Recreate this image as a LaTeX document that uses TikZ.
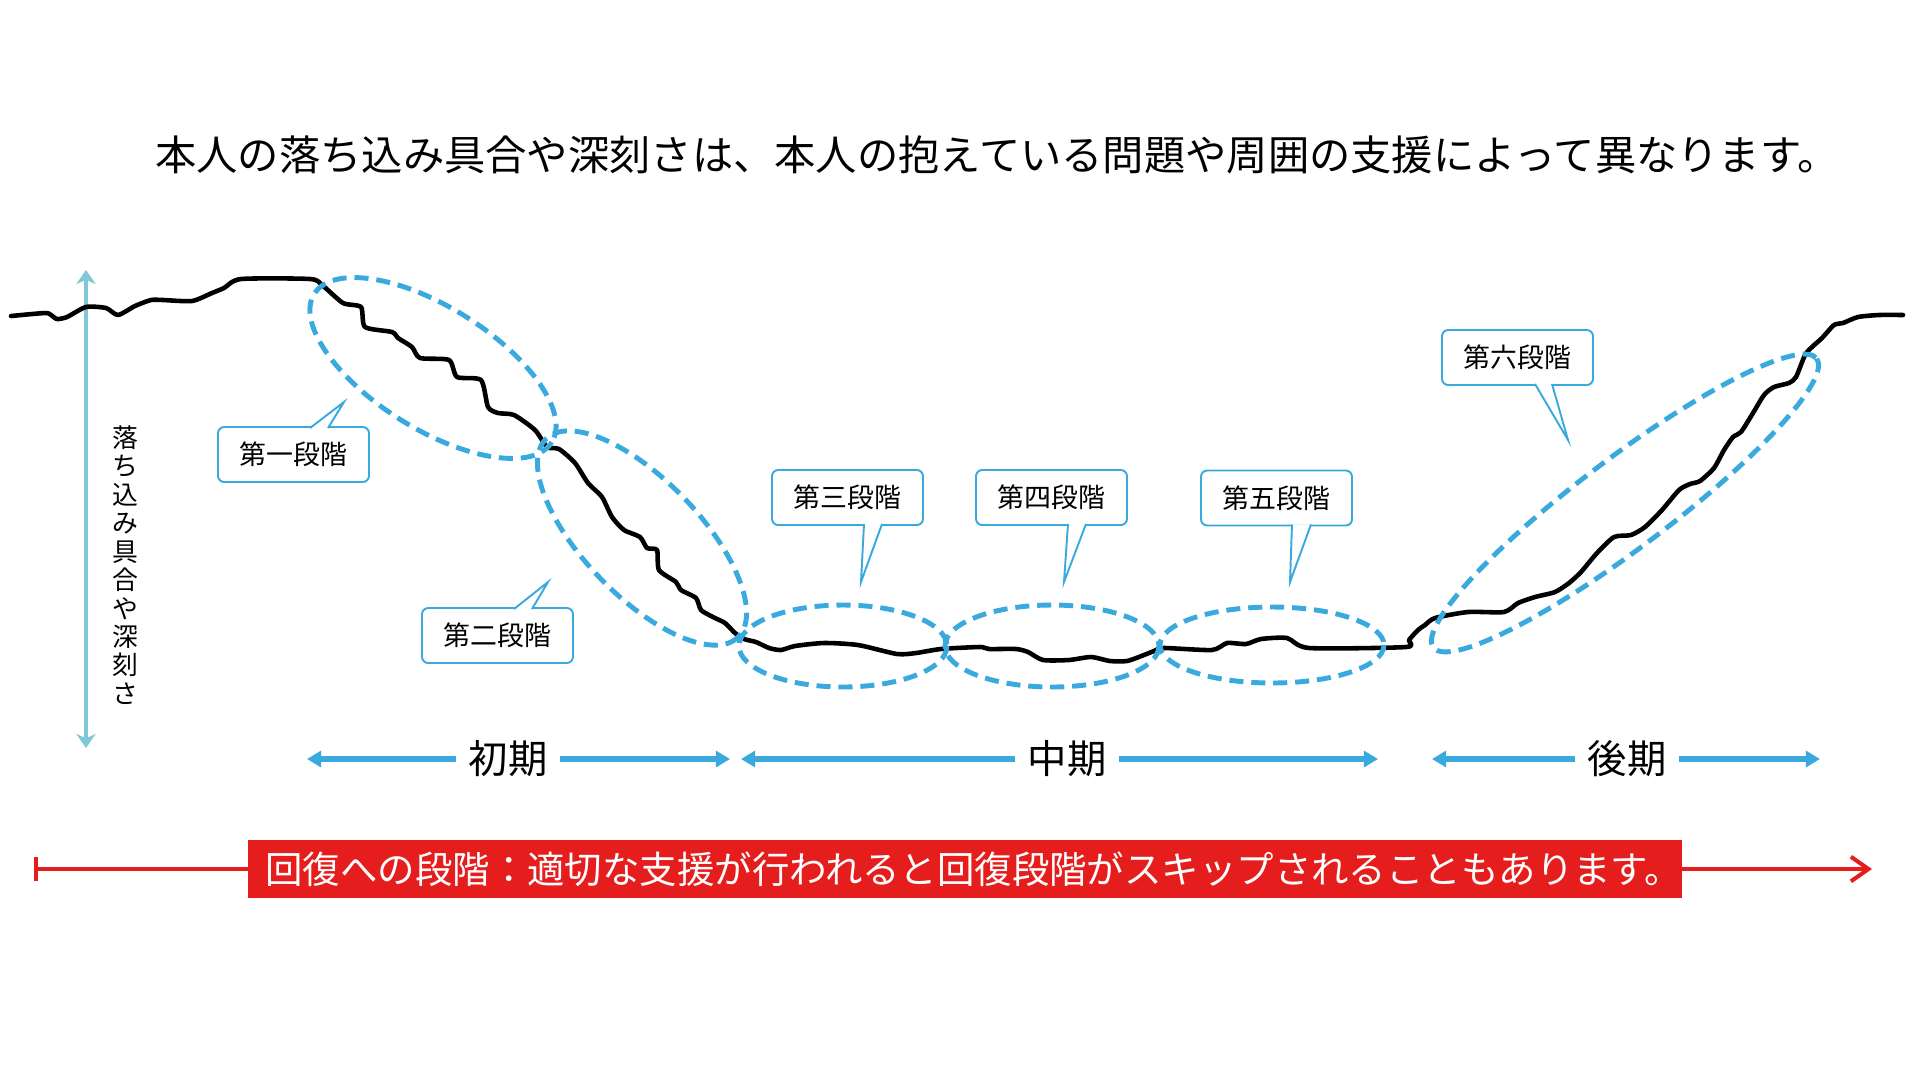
\documentclass[tikz,border=0pt]{standalone}
\usepackage{fontspec}
\newfontfamily\jpfont{Noto Sans CJK JP}
\usetikzlibrary{arrows.meta,positioning}
\definecolor{ringblue}{RGB}{58,169,222}
\definecolor{axisteal}{RGB}{126,200,216}
\definecolor{recred}{RGB}{230,29,29}
\tikzset{
  ring/.style={draw=ringblue, line width=2.8pt, dash pattern=on 8pt off 4.5pt},
  stagebox/.style={draw=ringblue, line width=1.1pt, fill=white, rounded corners=3.5pt,
    minimum width=3.02cm, minimum height=1.1cm, inner sep=0pt, font=\jpfont\fontsize{15.3}{18}\selectfont},
  stagetail/.style={draw=ringblue, line width=1.1pt, fill=white, line join=miter},
  period/.style={inner xsep=7pt, font=\jpfont\fontsize{22.4}{26}\selectfont},
  periodarrow/.style={draw=ringblue, line width=3.4pt, -{Triangle[length=8pt,width=9pt]}},
}

\begin{document}
\begin{tikzpicture}[x=0.02cm, y=-0.02cm, font=\jpfont]
  \useasboundingbox (0,0) rectangle (1920,1080);

  \node (title) at (997,155) [font=\jpfont\fontsize{23.5}{28}\selectfont]{本人の落ち込み具合や深刻さは、本人の抱えている問題や周囲の支援によって異なります。};

  % depth axis
  \coordinate (axis-top) at (86,270);
  \coordinate (axis-bot) at (86,748);
  \draw[axisteal, line width=2.3pt, {Stealth[length=8pt,width=11pt,inset=2.5pt]}-{Stealth[length=8pt,width=11pt,inset=2.5pt]}] (axis-top) -- (axis-bot);
  \node (depth) at (125,565) [align=center, inner sep=0pt, font=\jpfont\fontsize{14.7}{16.2}\selectfont]{落\\ち\\込\\み\\具\\合\\や\\深\\刻\\さ};

  % recovery curve
  \draw[line width=2.6pt, line cap=round, line join=round] plot[smooth, tension=0.4] coordinates {
    (11,316) (45,313) (51,315) (57,319) (67,317) (86,307) (106,308) (118,315) (135,306) (151,300)
    (163,300) (192,301) (212,293) (224,288) (241,279) (310,279) (322,285) (343,303) (361,307) (365,327)
    (392,332) (398,338) (412,347) (420,358) (449,360) (457,377) (481,380) (488,407) (498,413) (514,415)
    (535,430) (547,447) (559,449) (575,463) (588,483) (602,497) (612,517) (624,530) (640,537) (647,548)
    (657,550) (659,570) (676,582) (681,590) (696,598) (701,610) (713,617) (725,623) (735,633) (744,639)
    (756,642) (769,648) (781,650) (795,646) (824,643) (858,645) (897,654) (916,653) (941,649) (980,647)
    (989,649) (1016,649) (1028,652) (1043,660) (1069,660) (1091,657) (1110,661) (1127,661) (1144,655)
    (1154,651) (1164,648) (1212,650) (1227,643) (1246,644) (1261,639) (1287,638) (1309,648) (1406,647)
    (1409,640) (1418,630) (1425,625) (1435,618) (1468,612) (1504,612) (1518,603) (1535,597) (1555,592)
    (1569,583) (1581,572) (1597,553) (1614,537) (1631,535) (1645,527) (1662,510) (1679,490) (1690,484)
    (1700,481) (1714,468) (1724,450) (1733,437) (1741,432) (1753,413) (1764,395) (1774,387) (1789,383)
    (1796,377) (1805,355) (1812,347) (1822,338) (1834,325) (1843,323) (1858,317) (1879,315) (1903,315)};

  % stage rings
  \draw[ring, rotate around={-32:(433,368)}] (433,368) ellipse [x radius=140, y radius=61]; % 第一
  \draw[ring, rotate around={-46:(642,538)}] (642,538) ellipse [x radius=138, y radius=58]; % 第二
  \draw[ring] (843,646) ellipse [x radius=104, y radius=41]; % 第三
  \draw[ring] (1052,646) ellipse [x radius=107, y radius=41]; % 第四
  \draw[ring] (1272,645) ellipse [x radius=112, y radius=38]; % 第五
  \draw[ring, rotate around={37:(1625,503)}] (1625,503) ellipse [x radius=240, y radius=45]; % 第六

  % stage callouts
  \node (stage1) at (293.5,454.5) [stagebox]{第一段階};
  \coordinate (tip1) at (344,402);
  \draw[stagetail] ([shift={(16.5,2)}]stage1.north) -- (tip1) -- ([shift={(34.5,2)}]stage1.north);
  \node (stage2) at (497.5,635.5) [stagebox]{第二段階};
  \coordinate (tip2) at (548,582);
  \draw[stagetail] ([shift={(16.5,2)}]stage2.north) -- (tip2) -- ([shift={(34.5,2)}]stage2.north);
  \node (stage3) at (847.5,497.5) [stagebox]{第三段階};
  \coordinate (tip3) at (861,582);
  \draw[stagetail] ([shift={(16.5,-2)}]stage3.south) -- (tip3) -- ([shift={(34.5,-2)}]stage3.south);
  \node (stage4) at (1051.5,497.5) [stagebox]{第四段階};
  \coordinate (tip4) at (1064,582);
  \draw[stagetail] ([shift={(16.5,-2)}]stage4.south) -- (tip4) -- ([shift={(34.5,-2)}]stage4.south);
  \node (stage5) at (1276.5,498) [stagebox]{第五段階};
  \coordinate (tip5) at (1290,582);
  \draw[stagetail] ([shift={(15.5,-2)}]stage5.south) -- (tip5) -- ([shift={(34.5,-2)}]stage5.south);
  \node (stage6) at (1517.5,357.5) [stagebox]{第六段階};
  \coordinate (tip6) at (1568,440);
  \draw[stagetail] ([shift={(17.5,-2)}]stage6.south) -- (tip6) -- ([shift={(34.5,-2)}]stage6.south);

  % periods
  \node (early) at (508,759) [period]{初期};
  \coordinate (early-l) at (307,759);
  \coordinate (early-r) at (730,759);
  \draw[periodarrow] (early.west) -- (early-l);
  \draw[periodarrow] (early.east) -- (early-r);
  \node (middle) at (1067,759) [period]{中期};
  \coordinate (middle-l) at (741,759);
  \coordinate (middle-r) at (1378,759);
  \draw[periodarrow] (middle.west) -- (middle-l);
  \draw[periodarrow] (middle.east) -- (middle-r);
  \node (late) at (1627,759) [period]{後期};
  \coordinate (late-l) at (1432,759);
  \coordinate (late-r) at (1820,759);
  \draw[periodarrow] (late.west) -- (late-l);
  \draw[periodarrow] (late.east) -- (late-r);

  % recovery band
  \node (recovery) at (965,869) [fill=recred, text=white, inner sep=0pt, minimum width=28.68cm, minimum height=1.16cm,
    font=\jpfont\fontsize{21.3}{25}\selectfont]{\hspace*{10pt}回復への段階：適切な支援が行われると回復段階がスキップされることもあります。};
  \coordinate (rec-l) at (34,869);
  \coordinate (rec-r) at (1872,869);
  \draw[recred, line width=2.3pt, -{Bar[width=14pt]}] (recovery.west) -- (rec-l);
  \draw[recred, line width=2.3pt, -{Straight Barb[length=10pt,width=14pt]}] (recovery.east) -- (rec-r);
\end{tikzpicture}
\end{document}
